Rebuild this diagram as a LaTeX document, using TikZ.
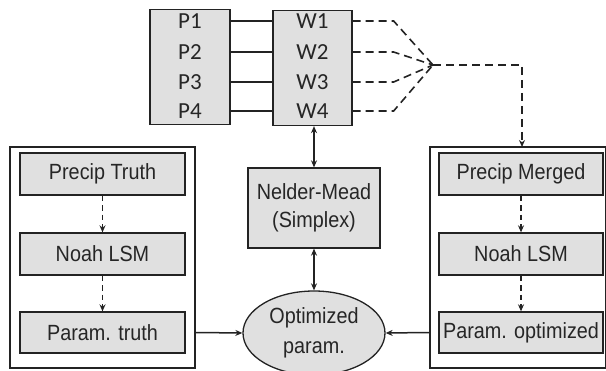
\documentclass[tikz,border=0pt]{standalone}
\usepackage{fontspec}
\setmainfont{Liberation Sans}[FakeStretch=0.9]
\newfontfamily\calfont{Carlito}
\usetikzlibrary{shapes.geometric,arrows.meta}
\definecolor{boxgray}{RGB}{224,224,224}
\definecolor{edge}{RGB}{35,35,35}
\begin{document}
\begin{tikzpicture}[x=1pt,y=-1pt,
  gbox/.style={draw=edge,fill=boxgray,line width=1.3pt,inner sep=0pt,font=\fontsize{22}{28}\selectfont,align=center,text=black!85},
  frame/.style={draw=edge,line width=1.6pt,inner sep=0pt},
  rowtxt/.style={inner sep=0pt,font=\calfont\fontsize{23}{25}\selectfont,text=black!85},
  tip/.style={-{Stealth[length=7pt,width=6pt]}},
  dtip/.style={{Stealth[length=7pt,width=6pt]}-{Stealth[length=7pt,width=6pt]}},
  dsh/.style={dash pattern=on 8pt off 5pt,line width=1.6pt},
  dshs/.style={dash pattern=on 5.5pt off 4pt,line width=1.6pt},
  conn/.style={line width=1.5pt,draw=edge}]
\useasboundingbox (0,0) rectangle (606,371);
% top boxes
\node[gbox,minimum width=80pt,minimum height=115pt] (pbox) at (190,67) {};
\node[gbox,minimum width=79pt,minimum height=115pt] (wbox) at (312.5,68) {};
\foreach \i/\y in {1/21,2/52,3/82,4/111}{
  \node[rowtxt] (p\i) at (190,\y) {P\i};
  \node[rowtxt] (w\i) at (312.5,\y) {W\i};
  \draw[conn] (p\i -| pbox.east) -- (w\i -| wbox.west);
}
% convergence
\coordinate (cv) at (433,65);
\foreach \i in {1,2,3,4}{
  \draw[conn,dsh] (w\i -| wbox.east) -- ([xshift=41pt]w\i -| wbox.east) -- (cv);
}
% frames
\node[frame,minimum width=185pt,minimum height=221pt] (lframe) at (102.5,257.5) {};
\node[frame,minimum width=176pt,minimum height=221pt] (rframe) at (518,257.5) {};
\coordinate (rtop) at (522,147);
\draw[conn,dsh,tip] (cv) -- (cv -| rtop) -- (rtop);
% left column
\node[gbox,minimum width=165pt,minimum height=42pt] (pt) at (102.5,174) {Precip Truth};
\node[gbox,minimum width=165pt,minimum height=42pt] (nl) at (102.5,254) {Noah LSM};
\node[gbox,minimum width=165pt,minimum height=41pt] (pat) at (102.5,332.5) {Param. truth};
\draw[conn,dshs,tip] (pt) -- (nl);
\draw[conn,dshs,tip] (nl) -- (pat);
% right column
\node[gbox,minimum width=164pt,minimum height=42pt] (pm) at (521,174) {Precip Merged};
\node[gbox,minimum width=164pt,minimum height=42pt] (nr) at (521,254) {Noah LSM};
\node[gbox,minimum width=164pt,minimum height=41pt] (pao) at (521,332.5) {Param. optimized};
\draw[conn,dshs,tip] (pm) -- (nr);
\draw[conn,dshs,tip] (nr) -- (pao);
% center
\node[gbox,minimum width=132pt,minimum height=80pt] (nm) at (314,208) {Nelder-Mead\\(Simplex)};
\node[gbox,ellipse,minimum width=142pt,minimum height=84pt,font=\fontsize{22}{30}\selectfont] (op) at (314,333) {Optimized\\param.};
\draw[conn,dtip] (wbox.south -| nm) -- (nm.north);
\draw[conn,dtip] (nm.south) -- (op.north);
\draw[conn,tip] (pat.east -| lframe.east) -- (op.west);
\draw[conn,tip] (pao.east -| rframe.west) -- (op.east);
\end{tikzpicture}
\end{document}
